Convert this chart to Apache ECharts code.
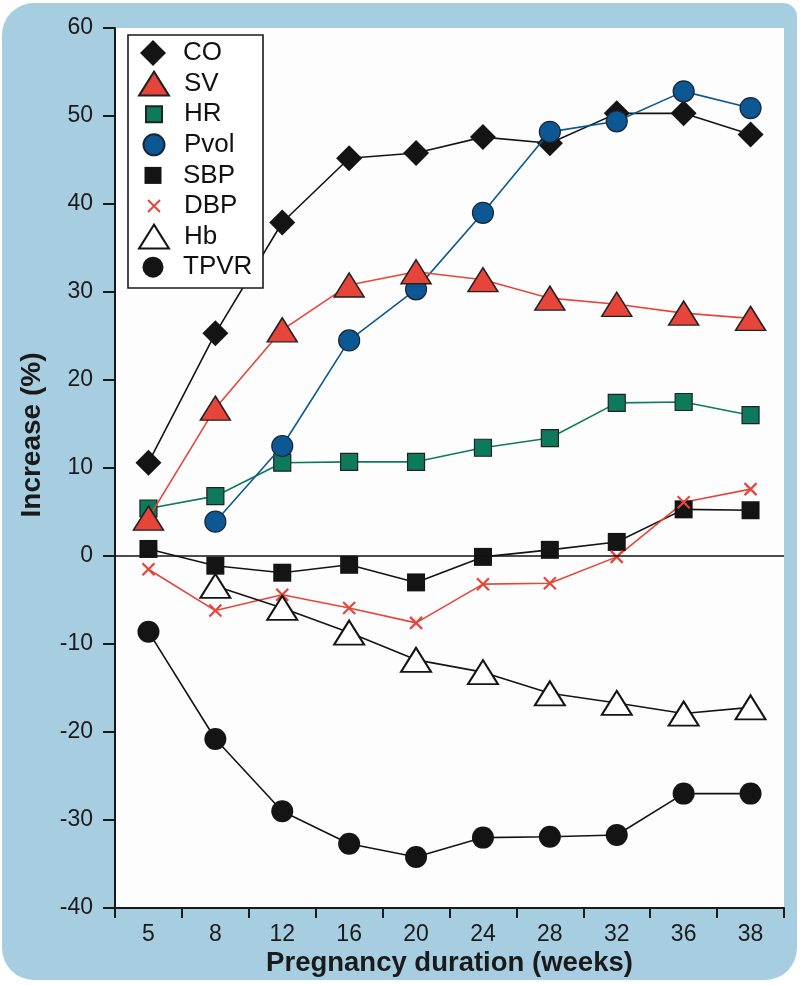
<!DOCTYPE html>
<html><head><meta charset="utf-8">
<script src="https://cdn.jsdelivr.net/npm/echarts@6/dist/echarts.min.js"></script>
<style>html,body{margin:0;padding:0;background:#fff}#c{width:800px;height:985px}</style>
</head><body><div id="c"></div>
<script>
// ---- data ----
const weeks = ['5', '8', '12', '16', '20', '24', '28', '32', '36', '38'];
const CO   = [10.6, 25.3, 37.9, 45.2, 45.8, 47.6, 46.9, 50.3, 50.3, 47.9];
const SV   = [4.3, 16.8, 25.7, 30.8, 32.3, 31.4, 29.3, 28.6, 27.6, 27.0];
const HR   = [5.4, 6.8, 10.6, 10.7, 10.7, 12.3, 13.4, 17.4, 17.5, 16.0];
const Pvol = [null, 3.9, 12.5, 24.5, 30.3, 39.0, 48.2, 49.4, 52.8, 50.9];
const SBP  = [0.8, -1.1, -1.9, -1.0, -3.0, -0.1, 0.7, 1.6, 5.3, 5.2];
const DBP  = [-1.5, -6.2, -4.4, -5.9, -7.6, -3.2, -3.1, -0.1, 6.1, 7.6];
const Hb   = [null, -3.4, -5.9, -8.7, -11.8, -13.2, -15.6, -16.7, -17.9, -17.2];
const TPVR = [-8.6, -20.8, -29.0, -32.7, -34.2, -32.0, -31.9, -31.7, -27.0, -27.0];
const legendNames = ['CO', 'SV', 'HR', 'Pvol', 'SBP', 'DBP', 'Hb', 'TPVR'];
const yMin = -40, yMax = 60, yStep = 10;
const xTitle = 'Pregnancy duration (weeks)';
const yTitle = 'Increase (%)';

// ---- styles ----
const RED = '#e8453a', GREEN = '#0e7a5c', BLUE = '#0b5894', BLK = '#141414';
const XSYM = 'path://M0,0L10,10M10,0L0,10';
const FONT = "'Liberation Sans', Arial, Helvetica, sans-serif";

const styleMap = {
  CO:   {symbol: 'diamond', size: 26, fill: BLK, border: BLK, bw: 0, line: BLK, lw: 26, lh: 26, z: 2},
  SV:   {symbol: 'triangle', size: [30, 24], fill: RED, border: '#222', bw: 1.5, line: RED, lw: 30, lh: 24, z: 4},
  HR:   {symbol: 'rect', size: 17, fill: GREEN, border: '#222', bw: 1.2, line: GREEN, lw: 16, lh: 16, z: 2},
  Pvol: {symbol: 'circle', size: 21, fill: BLUE, border: '#1b2633', bw: 1.2, line: BLUE, lw: 21, lh: 21, z: 3},
  SBP:  {symbol: 'rect', size: 18, fill: BLK, border: BLK, bw: 0, line: BLK, lw: 17, lh: 17, z: 2},
  DBP:  {symbol: XSYM, size: 12, fill: RED, border: RED, bw: 2.2, line: RED, lw: 12, lh: 12, z: 2},
  Hb:   {symbol: 'triangle', size: [30, 24], fill: '#ffffff', border: BLK, bw: 2, line: BLK, lw: 30, lh: 24, z: 2},
  TPVR: {symbol: 'circle', size: 22, fill: BLK, border: BLK, bw: 0, line: BLK, lw: 21, lh: 21, z: 2}
};
const dataMap = {CO, SV, HR, Pvol, SBP, DBP, Hb, TPVR};

const series = legendNames.map(function (name) {
  const s = styleMap[name];
  const o = {
    name: name,
    type: 'line',
    data: dataMap[name],
    z: s.z,
    symbol: s.symbol,
    symbolSize: s.size,
    showSymbol: true,
    showAllSymbol: true,
    animation: false,
    itemStyle: {color: s.fill, borderColor: s.border, borderWidth: s.bw, opacity: 1},
    lineStyle: {color: s.line, width: 1.6},
    emphasis: {disabled: true}
  };
  if (name === 'CO') {
    o.markLine = {
      silent: true, symbol: 'none', label: {show: false},
      lineStyle: {color: '#111', width: 1.6, type: 'solid'},
      data: [{yAxis: 0}]
    };
  }
  return o;
});

const legends = legendNames.map(function (name, i) {
  const s = styleMap[name];
  return {
    orient: 'vertical',
    left: 153 - s.lw / 2,
    top: 53 + 30.6 * i - 15,
    padding: 0,
    itemGap: 0,
    itemWidth: s.lw,
    itemHeight: s.lh,
    selectedMode: false,
    z: 5,
    data: [{name: name, icon: s.symbol}],
    textStyle: {fontSize: 26, fontFamily: FONT, color: '#111', lineHeight: 30,
                padding: [0, 0, 0, 25 - s.lw / 2]}
  };
});

const chart = echarts.init(document.getElementById('c'), null, {renderer: 'canvas'});
chart.setOption({
  backgroundColor: '#ffffff',
  animation: false,
  textStyle: {fontFamily: FONT},
  graphic: [
    {type: 'rect', z: -5, silent: true,
     shape: {x: 2, y: 3, width: 795, height: 977, r: [32, 14, 32, 32]},
     style: {fill: '#a7cde1'}},
    {type: 'rect', z: 3, silent: true,
     shape: {x: 128, y: 35, width: 135, height: 253},
     style: {fill: '#ffffff', stroke: '#1a1a1a', lineWidth: 1.6}},
    {type: 'text', z: 5, silent: true, x: 32, y: 435, rotation: Math.PI / 2,
     style: {text: yTitle, fontSize: 28, fontWeight: 'bold', fontFamily: FONT,
             fill: '#1a1a1a', align: 'center', verticalAlign: 'middle'}}
  ],
  legend: legends,
  grid: {left: 115, right: 16, top: 28, bottom: 77, show: true,
         backgroundColor: '#fdfdfd', borderWidth: 0,
         containLabel: false, outerBoundsMode: 'none'},
  xAxis: {
    type: 'category',
    data: weeks,
    boundaryGap: true,
    name: xTitle,
    nameLocation: 'middle',
    nameGap: 41,
    nameMoveOverlap: false,
    nameTextStyle: {fontSize: 27.5, fontWeight: 'bold', color: '#1a1a1a', fontFamily: FONT},
    axisLine: {show: true, onZero: false, lineStyle: {color: '#1a1a1a', width: 2}},
    axisTick: {show: true, inside: false, length: 10, alignWithLabel: false,
               lineStyle: {color: '#1a1a1a', width: 2}},
    axisLabel: {fontSize: 23, color: '#1a1a1a', margin: 15, fontFamily: FONT, interval: 0},
    splitLine: {show: false}
  },
  yAxis: {
    type: 'value',
    min: yMin, max: yMax, interval: yStep,
    axisLine: {show: true, lineStyle: {color: '#1a1a1a', width: 2}},
    axisTick: {show: true, inside: false, length: 12, lineStyle: {color: '#1a1a1a', width: 2}},
    axisLabel: {fontSize: 23, color: '#1a1a1a', margin: 22, fontFamily: FONT},
    splitLine: {show: false}
  },
  series: series
});
</script></body></html>
